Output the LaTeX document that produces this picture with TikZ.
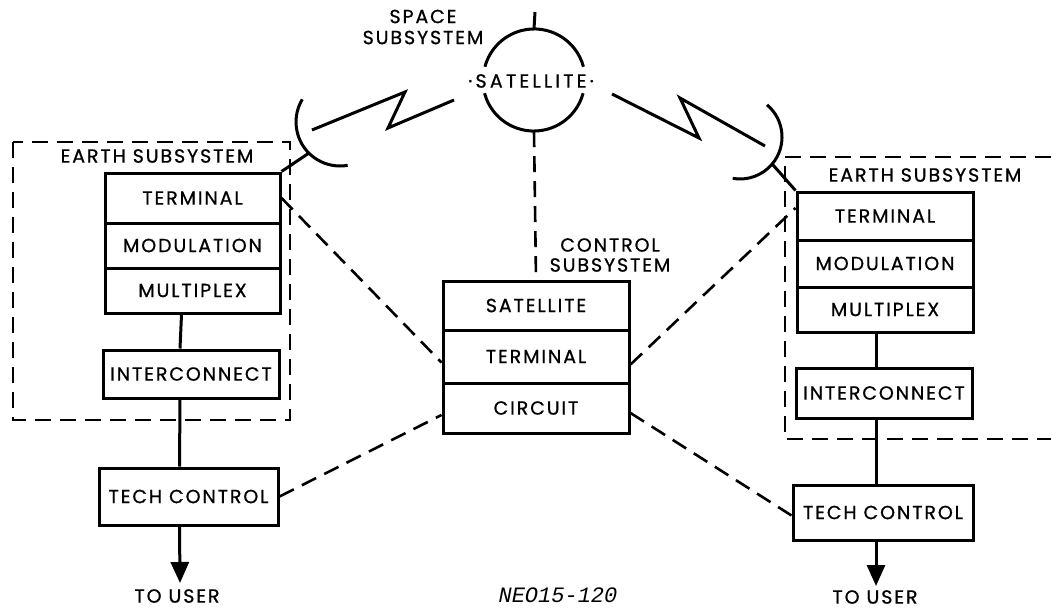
\documentclass[tikz,border=0pt]{standalone}
\usepackage{fontspec}
\newfontfamily\lblfont[LetterSpace=10,FakeBold=0.8]{Poppins}
\newfontfamily\codefont{Liberation Mono}
\newcommand\lbl{\lblfont\fontsize{19}{22}\selectfont}
\usetikzlibrary{arrows.meta}
\begin{document}
\begin{tikzpicture}[x=1pt,y=-1pt,
  blk/.style={draw, line width=3pt, inner sep=0pt, font=\lbl},
  solid line/.style={line width=3pt},
  dashconn/.style={line width=2.6pt, dash pattern=on 16pt off 9pt},
  dashbox/.style={line width=2.6pt, dash pattern=on 16pt off 9pt},
  txt/.style={font=\lbl, inner sep=0pt, align=center},
  touser/.style={line width=3pt, -{Triangle[length=21pt,width=18pt]}}]
\useasboundingbox[fill=white] (0,0) rectangle (1051,610);

% ---------- space subsystem ----------
\node[circle, minimum size=102pt, inner sep=0pt] (sat) at (534,80) {};
\draw[solid line] (sat.15) arc[start angle=15, end angle=165, radius=51pt];
\draw[solid line] (sat.195) arc[start angle=195, end angle=345, radius=51pt];
\coordinate (stub) at (535,12);
\draw[solid line] (sat.north) -- (stub);
\node[txt] (satl) at (531,81) {\addfontfeature{LetterSpace=17}·SATELLITE·};
\node[txt] (spacel) at (423,27) {SPACE\\[-1pt]SUBSYSTEM};

% ---------- left earth subsystem ----------
\draw[dashbox] (13,142) rectangle (290,420);
\node[txt] (learth) at (157,156) {EARTH SUBSYSTEM};
\node[blk, minimum width=175pt, minimum height=50pt] (lterm) at (192.5,198) {TERMINAL};
\node[blk, minimum width=175pt, minimum height=45pt] (lmod) at (192.5,245.5) {MODULATION};
\node[blk, minimum width=175pt, minimum height=45pt] (lmux) at (192.5,290.5) {MULTIPLEX};
\node[blk, minimum width=176pt, minimum height=48pt] (lic) at (191,374) {INTERCONNECT};
\node[blk, minimum width=179pt, minimum height=57pt] (ltc) at (188.5,496.5) {TECH CONTROL};
\coordinate (lu) at (180,583);
\node[txt] (lul) at (177,596) {TO USER};
\draw[solid line] ([xshift=-11pt]lmux.south) -- ([xshift=-11pt]lic.north);
\draw[solid line] ([xshift=-11pt]lic.south) -- ([xshift=-9pt]ltc.north);
\draw[touser] ([xshift=-9pt]ltc.south) -- (lu);

% left antenna
\coordinate (la) at (340,122);
\draw[solid line] ([shift={(149:44pt)}]la) arc[start angle=149, end angle=280, radius=44pt];
\draw[solid line] ([shift={(225:44pt)}]la) -- (lterm.north east);
\draw[solid line] (312,130) -- (405,92) -- (388,128) -- (454,100);

% ---------- right earth subsystem ----------
\draw[dashbox] (1051,157) -- (785,157) -- (785,439) -- (1051,439);
\node[txt] (rearth) at (925,175) {EARTH SUBSYSTEM};
\node[blk, minimum width=176pt, minimum height=48pt] (rterm) at (885,216) {TERMINAL};
\node[blk, minimum width=176pt, minimum height=47pt] (rmod) at (885,263.5) {MODULATION};
\node[blk, minimum width=176pt, minimum height=45pt] (rmux) at (885,309.5) {MULTIPLEX};
\node[blk, minimum width=176pt, minimum height=50pt] (ric) at (884,393) {INTERCONNECT};
\node[blk, minimum width=180pt, minimum height=55pt] (rtc) at (883,512.5) {TECH CONTROL};
\coordinate (ru) at (876,586);
\node[txt] (rul) at (875,597) {TO USER};
\draw[solid line] ([xshift=-9pt]rmux.south) -- ([xshift=-8pt]ric.north);
\draw[solid line] ([xshift=-8pt]ric.south) -- ([xshift=-7pt]rtc.north);
\draw[touser] ([xshift=-7pt]rtc.south) -- (ru);

% right antenna
\coordinate (ra) at (740,137);
\draw[solid line] ([shift={(50:42pt)}]ra) arc[start angle=50, end angle=-100, radius=42pt];
\draw[solid line] ([shift={(-40:42pt)}]ra) -- (rterm.north west);
\draw[solid line] (612,94) -- (699,138) -- (680,98) -- (765,146);

% ---------- control subsystem ----------
\node[txt] (ctrll) at (610,255) {CONTROL\\[-2pt]SUBSYSTEM};
\node[blk, minimum width=186pt, minimum height=49pt] (csat) at (536,305.5) {SATELLITE};
\node[blk, minimum width=186pt, minimum height=53pt] (cterm) at (536,356.5) {TERMINAL};
\node[blk, minimum width=186pt, minimum height=50pt] (ccirc) at (536,408) {CIRCUIT};
\draw[dashconn] (sat.south) -- (csat.north);

% ---------- dashed control links ----------
\draw[dashconn] (lterm.east) -- ([yshift=-6pt]cterm.west);
\draw[dashconn] (ltc.east) -- ([yshift=-7pt]ccirc.west);
\draw[dashconn] ([yshift=-8pt]cterm.east) -- ([yshift=8pt]rterm.west);
\draw[dashconn] ([yshift=-5pt]ccirc.east) -- ([yshift=-3pt]rtc.west);

\node[font=\codefont\itshape\fontsize{22}{24}\selectfont, inner sep=0pt] (code) at (558,595) {NEO15-120};
\end{tikzpicture}
\end{document}
